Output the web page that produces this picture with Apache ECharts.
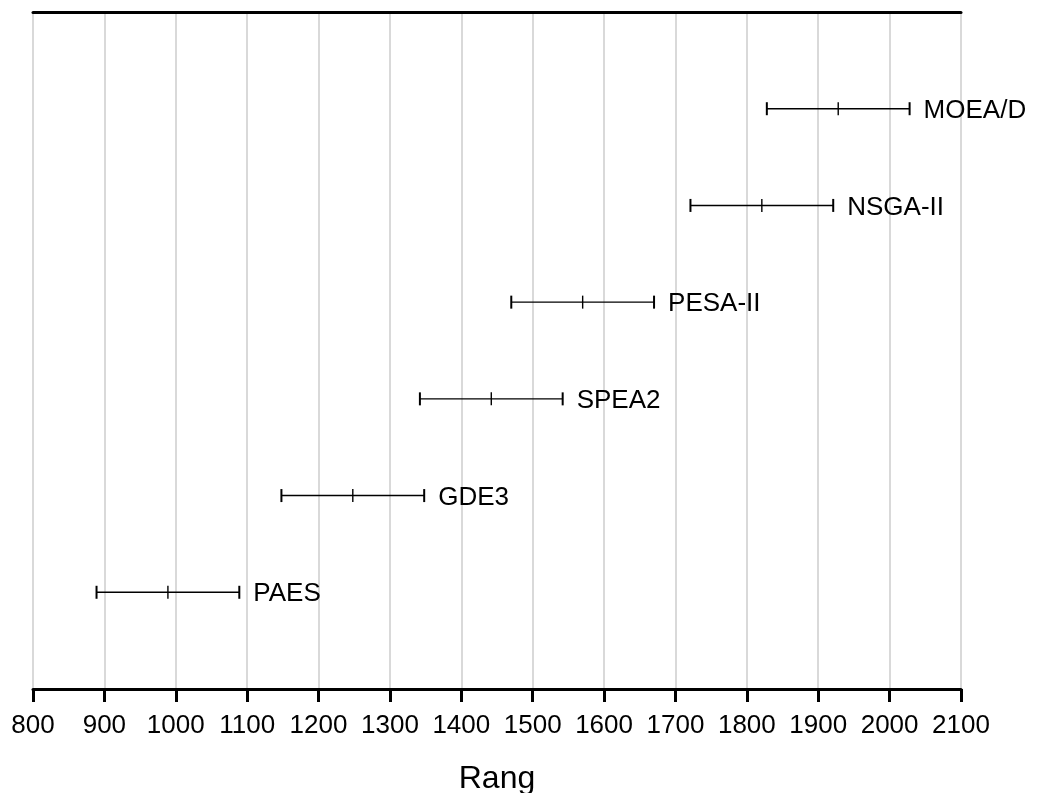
<!DOCTYPE html>
<html>
<head>
<meta charset="utf-8">
<script src="https://cdn.jsdelivr.net/npm/echarts@6/dist/echarts.min.js"></script>
<style>html,body{margin:0;padding:0;background:#fff;}#chart{width:1039px;height:793px;}</style>
</head>
<body>
<div id="chart"></div>
<script>
var algorithms = ['PAES', 'GDE3', 'SPEA2', 'PESA-II', 'NSGA-II', 'MOEA/D'];
var centers = [989, 1248, 1442, 1570, 1821, 1928];
var lows = [889, 1148, 1342, 1470, 1721, 1828];
var highs = [1089, 1348, 1542, 1670, 1921, 2028];
var xTicks = [800, 900, 1000, 1100, 1200, 1300, 1400, 1500, 1600, 1700, 1800, 1900, 2000, 2100];
var axisTitle = 'Rang';

var data = algorithms.map(function (name, i) {
  return [i + 1, lows[i], centers[i], highs[i], name];
});

var chart = echarts.init(document.getElementById('chart'));
chart.setOption({
  animation: false,
  backgroundColor: '#fff',
  grid: { left: 33, right: 78, top: 12, bottom: 104, containLabel: false, outerBoundsMode: 'none' },
  xAxis: [{
    type: 'value',
    min: xTicks[0], max: xTicks[xTicks.length - 1], interval: 100,
    position: 'bottom',
    name: axisTitle, nameLocation: 'middle', nameGap: 74,
    nameTextStyle: { fontFamily: 'Liberation Sans', fontSize: 32, color: '#000' },
    axisLine: { show: true, lineStyle: { color: '#000', width: 3 } },
    axisTick: { show: true, length: 13, lineStyle: { color: '#000', width: 3 } },
    axisLabel: { fontFamily: 'Liberation Sans', fontSize: 26, color: '#000', margin: 24,
      formatter: function (v) { return String(v); } },
    splitLine: { show: true, lineStyle: { color: '#cccccc', width: 1.5 } }
  }, {
    type: 'value',
    min: xTicks[0], max: xTicks[xTicks.length - 1], interval: 100,
    position: 'top',
    axisLine: { show: true, lineStyle: { color: '#000', width: 3 } },
    axisTick: { show: false },
    axisLabel: { show: false },
    splitLine: { show: false }
  }],
  yAxis: {
    type: 'value', min: 0, max: 7, interval: 1,
    axisLine: { show: false }, axisTick: { show: false },
    axisLabel: { show: false }, splitLine: { show: false }
  },
  series: [{
    type: 'custom',
    xAxisIndex: 0,
    encode: { x: [1, 2, 3], y: 0 },
    data: data,
    renderItem: function (params, api) {
      var y = api.value(0);
      var pL = api.coord([api.value(1), y]);
      var pC = api.coord([api.value(2), y]);
      var pH = api.coord([api.value(3), y]);
      var h = 6.5;
      var st = { stroke: '#000', lineWidth: 1.4 };
      return {
        type: 'group',
        children: [
          { type: 'line', shape: { x1: pL[0], y1: pL[1], x2: pH[0], y2: pH[1] }, style: st },
          { type: 'line', shape: { x1: pL[0], y1: pL[1] - h, x2: pL[0], y2: pL[1] + h }, style: { stroke: '#000', lineWidth: 2 } },
          { type: 'line', shape: { x1: pC[0], y1: pC[1] - h, x2: pC[0], y2: pC[1] + h }, style: st },
          { type: 'line', shape: { x1: pH[0], y1: pH[1] - h, x2: pH[0], y2: pH[1] + h }, style: { stroke: '#000', lineWidth: 2 } },
          { type: 'text', x: pH[0] + 14, y: pH[1] + 2, style: {
              text: api.value(4), fill: '#000', font: '26px "Liberation Sans", Arial',
              textAlign: 'left', textVerticalAlign: 'middle' } }
        ]
      };
    }
  }]
});
</script>
</body>
</html>
